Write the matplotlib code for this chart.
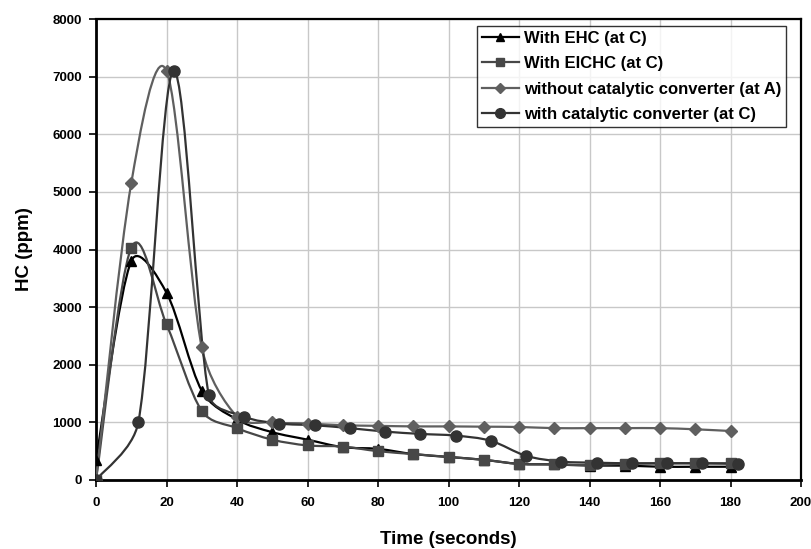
import numpy as np
import matplotlib
matplotlib.use("Agg")
import matplotlib.pyplot as plt
from matplotlib.path import Path
from matplotlib.patches import PathPatch

plt.rcParams['font.family'] = ['Liberation Sans', 'DejaVu Sans']
plt.rcParams['font.weight'] = 'bold'

# data
t_main = [0, 10, 20, 30, 40, 50, 60, 70, 80, 90, 100, 110, 120, 130, 140, 150, 160, 170, 180]
t_cat = [0, 12, 22, 32, 42, 52, 62, 72, 82, 92, 102, 112, 122, 132, 142, 152, 162, 172, 182]

hc_ehc = [350, 3800, 3250, 1550, 1050, 830, 700, 570, 540, 450, 400, 350, 280, 270, 250, 250, 230, 230, 230]
hc_eichc = [0, 4030, 2700, 1200, 900, 700, 600, 580, 500, 450, 400, 350, 280, 270, 260, 280, 290, 290, 290]
hc_nocat = [0, 5150, 7100, 2300, 1100, 1000, 980, 950, 940, 930, 930, 925, 920, 900, 900, 900, 900, 880, 850]
hc_cat = [0, 1000, 7100, 1480, 1100, 980, 950, 900, 840, 800, 770, 680, 420, 320, 300, 290, 290, 290, 280]

series = [
    ("With EHC (at C)", t_main, hc_ehc, '^', '#000000', 7),
    ("With EICHC (at C)", t_main, hc_eichc, 's', '#474747', 7),
    ("without catalytic converter (at A)", t_main, hc_nocat, 'D', '#5f5f5f', 6),
    ("with catalytic converter (at C)", t_cat, hc_cat, 'o', '#333333', 8),
]

XMAX, YMAX = 200, 8000
AX_W, AX_H = 705, 461  # axes size in pixels


def smooth_path(x, y, k=0.4):
    # smoothed line like a spreadsheet chart: Catmull-Rom style Bezier through
    # every point, control arms capped relative to the segment length on screen
    pts = np.column_stack([x, y]).astype(float)
    sc = np.array([AX_W / XMAX, AX_H / YMAX])
    n = len(pts)

    def arm(t, seg):
        length = np.hypot(*(t * sc))
        limit = k * np.hypot(*(seg * sc))
        if length > limit and length > 0:
            t = t * limit / length
        return t

    verts = [pts[0]]
    codes = [Path.MOVETO]
    for i in range(n - 1):
        p0 = pts[i - 1] if i > 0 else pts[i]
        p1 = pts[i]
        p2 = pts[i + 1]
        p3 = pts[i + 2] if i + 2 < n else pts[i + 1]
        c1 = p1 + arm((p2 - p0) / 6.0, p2 - p1)
        c2 = p2 - arm((p3 - p1) / 6.0, p2 - p1)
        verts += [c1, c2, p2]
        codes += [Path.CURVE4] * 3
    return Path(verts, codes)


fig = plt.figure(figsize=(8.11, 5.49), dpi=100)
ax = fig.add_axes([96 / 811, 1 - 480 / 549, AX_W / 811, AX_H / 549])

handles = []
for label, x, y, m, c, ms in series:
    patch = PathPatch(smooth_path(x, y), facecolor='none', edgecolor=c, lw=1.6, zorder=3)
    ax.add_patch(patch)
    ax.plot(x, y, linestyle='none', marker=m, color=c, markersize=ms, zorder=4)
    h, = ax.plot([], [], marker=m, color=c, lw=1.6, markersize=ms - 1, label=label)
    handles.append(h)

ax.set_xlim(0, XMAX)
ax.set_ylim(0, YMAX)
ax.set_xticks(range(0, 201, 20))
ax.set_yticks(range(0, 8001, 1000))
ax.grid(True, color='#c8c8c8', lw=1.0, zorder=0)
ax.set_axisbelow(True)
for s in ['left', 'bottom']:
    ax.spines[s].set_linewidth(2.0)
for s in ['top', 'right']:
    ax.spines[s].set_linewidth(1.6)
ax.tick_params(direction='out', length=5, width=1.2, labelsize=9.5, pad=5)
ax.tick_params(axis='x', pad=7)
for lab in ax.get_xticklabels() + ax.get_yticklabels():
    lab.set_fontweight('bold')

ax.set_xlabel('Time (seconds)', fontsize=13.5, fontweight='bold', labelpad=16)
ax.set_ylabel('HC (ppm)', fontsize=13.5, fontweight='bold', labelpad=14)

leg = ax.legend(handles=handles, loc='upper right', bbox_to_anchor=(0.979, 0.985),
                frameon=True, fancybox=False, edgecolor='black',
                handlelength=2.2, handletextpad=0.3, labelspacing=0.62, borderpad=0.3,
                borderaxespad=0.0, prop={'weight': 'bold', 'size': 12})
leg.get_frame().set_linewidth(1.0)

fig.savefig('out.png', dpi=100)
